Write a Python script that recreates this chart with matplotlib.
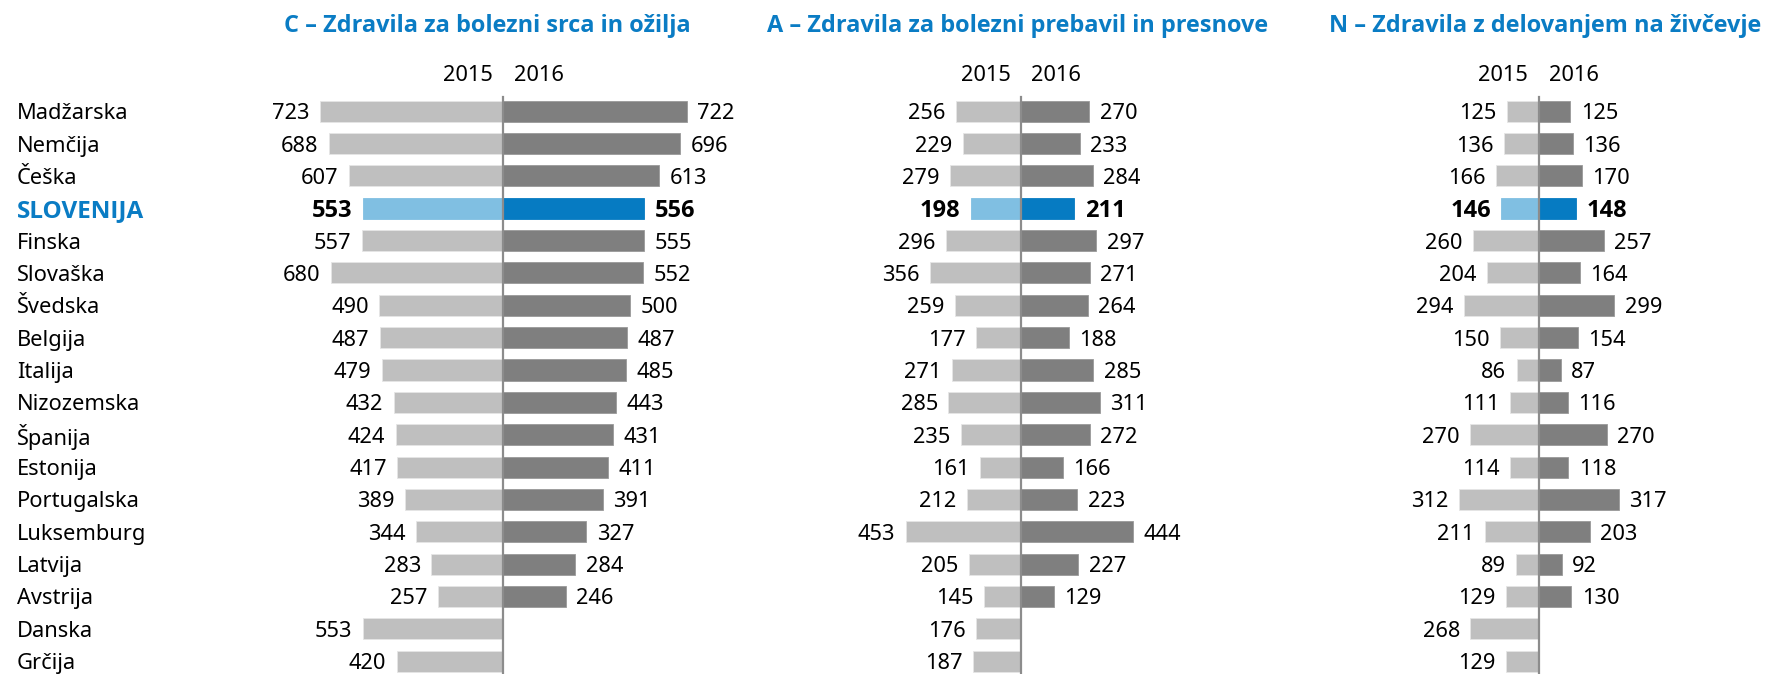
import matplotlib
matplotlib.use("Agg")
import matplotlib.pyplot as plt

countries = ["Madžarska", "Nemčija", "Češka", "SLOVENIJA", "Finska", "Slovaška",
             "Švedska", "Belgija", "Italija", "Nizozemska", "Španija", "Estonija",
             "Portugalska", "Luksemburg", "Latvija", "Avstrija", "Danska", "Grčija"]
highlight = "SLOVENIJA"

c_2015 = [723, 688, 607, 553, 557, 680, 490, 487, 479, 432, 424, 417, 389, 344, 283, 257, 553, 420]
c_2016 = [722, 696, 613, 556, 555, 552, 500, 487, 485, 443, 431, 411, 391, 327, 284, 246, None, None]
a_2015 = [256, 229, 279, 198, 296, 356, 259, 177, 271, 285, 235, 161, 212, 453, 205, 145, 176, 187]
a_2016 = [270, 233, 284, 211, 297, 271, 264, 188, 285, 311, 272, 166, 223, 444, 227, 129, None, None]
n_2015 = [125, 136, 166, 146, 260, 204, 294, 150, 86, 111, 270, 114, 312, 211, 89, 129, 268, 129]
n_2016 = [125, 136, 170, 148, 257, 164, 299, 154, 87, 116, 270, 118, 317, 203, 92, 130, None, None]

titles = ["C – Zdravila za bolezni srca in ožilja",
          "A – Zdravila za bolezni prebavil in presnove",
          "N – Zdravila z delovanjem na živčevje"]
years = ["2015", "2016"]

panels = [(c_2015, c_2016), (a_2015, a_2016), (n_2015, n_2016)]

# layout (pixels)
W, H = 1766, 674
centers = [503.3, 1020.8, 1538.5]
title_x = [487, 1018, 1545]
half_w = 220
units_per_px = 3.94
row0_px, pitch_px = 111.2, 32.35

C15 = "#BFBFBF"
C16 = "#7F7F7F"
S15 = "#80BFE2"
S16 = "#067BC2"
BLUE = "#0A7CC4"
FONT = "Noto Sans"
BFONT = "Open Sans"
FS = 15.7
FSB = 17.0

fig = plt.figure(figsize=(W / 100, H / 100), dpi=100)
fig.patch.set_facecolor("white")

y_top = -row0_px / pitch_px
y_bot = (H - row0_px) / pitch_px
xl = half_w * units_per_px


def fam(bold):
    return [BFONT, "DejaVu Sans"] if bold else [FONT, "DejaVu Sans"]


for k, (v15, v16) in enumerate(panels):
    c = centers[k]
    ax = fig.add_axes([(c - half_w) / W, 0, 2 * half_w / W, 1])
    ax.set_xlim(-xl, xl)
    ax.set_ylim(y_bot, y_top)
    ax.axis("off")
    for i, name in enumerate(countries):
        hl = name == highlight
        col15 = S15 if hl else C15
        col16 = S16 if hl else C16
        fw = "bold" if hl else "normal"
        fs = FSB if hl else FS
        if v15[i] is not None:
            ax.barh(i, -v15[i], height=0.65, color=col15, edgecolor="#E6E6E6" if not hl else col15,
                    linewidth=0.6, clip_on=False)
            ax.annotate(str(v15[i]), (-v15[i], i), xytext=(-7.5, 0),
                        textcoords="offset points", ha="right", va="center_baseline",
                        fontsize=fs, family=fam(hl), fontweight=fw, color="black",
                        annotation_clip=False)
        if v16[i] is not None:
            ax.barh(i, v16[i], height=0.65, color=col16, edgecolor="#9A9A9A" if not hl else col16,
                    linewidth=0.6, clip_on=False)
            ax.annotate(str(v16[i]), (v16[i], i), xytext=(7.5, 0),
                        textcoords="offset points", ha="left", va="center_baseline",
                        fontsize=fs, family=fam(hl), fontweight=fw, color="black",
                        annotation_clip=False)
    ax.plot([0, 0], [(97 - row0_px) / pitch_px, y_bot], color="#8C8C8C", lw=1.6,
            clip_on=False, zorder=5)
    yh = (73.3 - row0_px) / pitch_px
    ax.annotate(years[0], (0, yh), xytext=(-7.5, 0), textcoords="offset points",
                ha="right", va="center_baseline", fontsize=FS, family=fam(False), color="black",
                annotation_clip=False)
    ax.annotate(years[1], (0, yh), xytext=(7.5, 0), textcoords="offset points",
                ha="left", va="center_baseline", fontsize=FS, family=fam(False), color="black",
                annotation_clip=False)
    fig.text(title_x[k] / W, 1 - 22.5 / H, titles[k], ha="center", va="center_baseline",
             fontsize=16.9, family=fam(True), fontweight="bold", color=BLUE)

# country labels
for i, name in enumerate(countries):
    hl = name == highlight
    fig.text(16.7 / W, 1 - (row0_px + pitch_px * i) / H, name, ha="left", va="center_baseline",
             fontsize=FSB + 0.5 if hl else FS, family=fam(hl),
             fontweight="bold" if hl else "normal",
             color=BLUE if hl else "black")

fig.savefig("out.png", dpi=100, facecolor="white")
